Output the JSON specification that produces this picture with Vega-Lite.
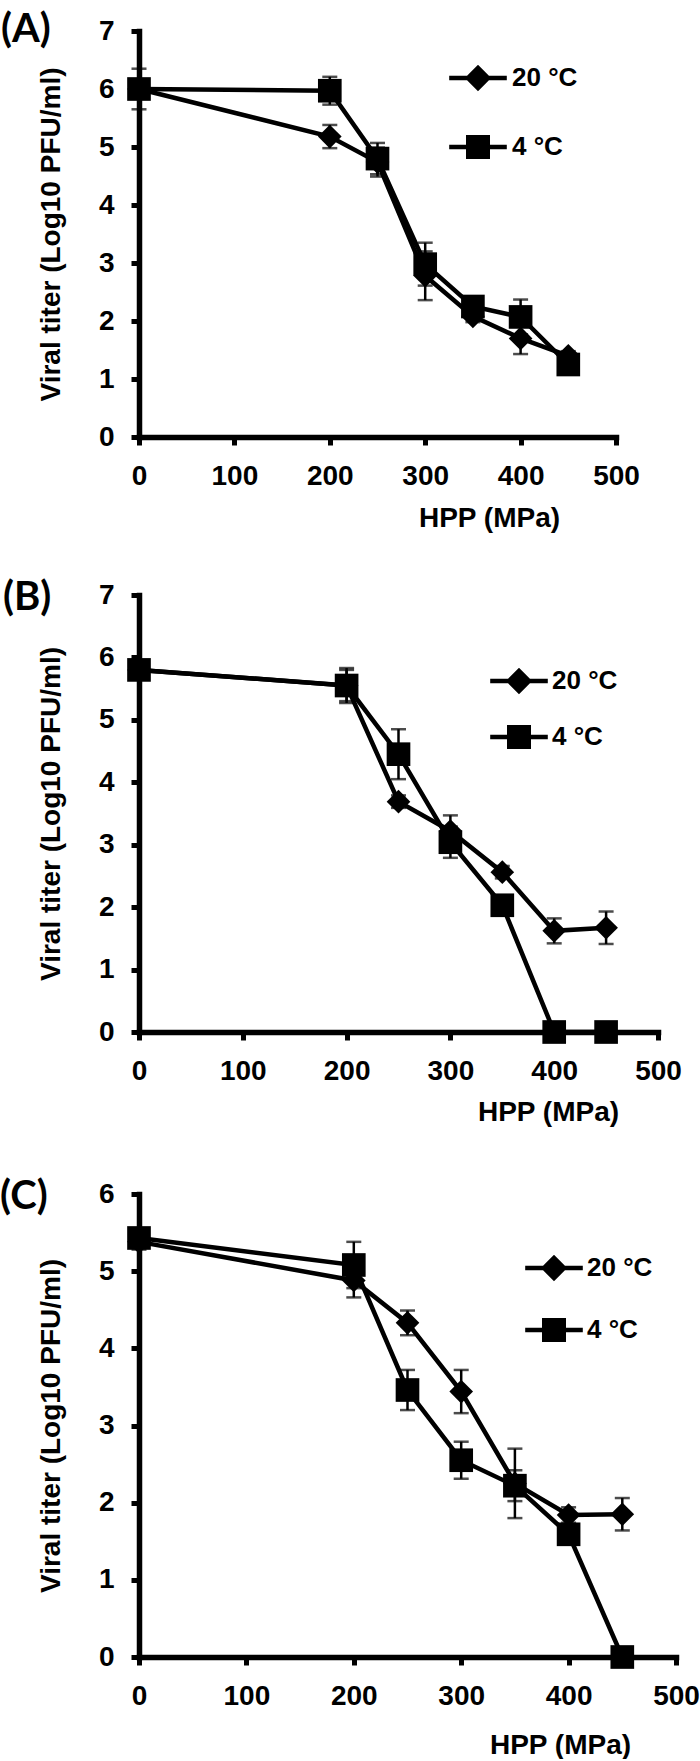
{
  "$schema": "https://vega.github.io/schema/vega-lite/v6.json",
  "background": "white",
  "padding": {"left": 0, "top": 10, "right": 0, "bottom": 0},
  "spacing": 46,
  "datasets": {
    "A": [
      {"p": 0, "series": "20 °C", "v": 6.0, "err": 0.35},
      {"p": 200, "series": "20 °C", "v": 5.18, "err": 0.2},
      {"p": 250, "series": "20 °C", "v": 4.74, "err": 0.25},
      {"p": 300, "series": "20 °C", "v": 2.78, "err": 0.42},
      {"p": 350, "series": "20 °C", "v": 2.08, "err": 0.1},
      {"p": 400, "series": "20 °C", "v": 1.7, "err": 0.27},
      {"p": 450, "series": "20 °C", "v": 1.4, "err": 0.08},
      {"p": 0, "series": "4 °C", "v": 6.0, "err": 0.1},
      {"p": 200, "series": "4 °C", "v": 5.97, "err": 0.24},
      {"p": 250, "series": "4 °C", "v": 4.8, "err": 0.27},
      {"p": 300, "series": "4 °C", "v": 2.98, "err": 0.37},
      {"p": 350, "series": "4 °C", "v": 2.25, "err": 0.1},
      {"p": 400, "series": "4 °C", "v": 2.07, "err": 0.3},
      {"p": 450, "series": "4 °C", "v": 1.25, "err": 0.08}
    ],
    "B": [
      {"p": 0, "series": "20 °C", "v": 5.8, "err": 0.1},
      {"p": 200, "series": "20 °C", "v": 5.55, "err": 0.25},
      {"p": 250, "series": "20 °C", "v": 3.69, "err": 0.1},
      {"p": 300, "series": "20 °C", "v": 3.22, "err": 0.25},
      {"p": 350, "series": "20 °C", "v": 2.56, "err": 0.1},
      {"p": 400, "series": "20 °C", "v": 1.62, "err": 0.2},
      {"p": 450, "series": "20 °C", "v": 1.67, "err": 0.26},
      {"p": 0, "series": "4 °C", "v": 5.8, "err": 0.1},
      {"p": 200, "series": "4 °C", "v": 5.55, "err": 0.28},
      {"p": 250, "series": "4 °C", "v": 4.45, "err": 0.4},
      {"p": 300, "series": "4 °C", "v": 3.04, "err": 0.25},
      {"p": 350, "series": "4 °C", "v": 2.03, "err": 0.1},
      {"p": 400, "series": "4 °C", "v": 0, "err": 0},
      {"p": 450, "series": "4 °C", "v": 0, "err": 0}
    ],
    "C": [
      {"p": 0, "series": "20 °C", "v": 5.38, "err": 0.1},
      {"p": 200, "series": "20 °C", "v": 4.88, "err": 0.22},
      {"p": 250, "series": "20 °C", "v": 4.33, "err": 0.16},
      {"p": 300, "series": "20 °C", "v": 3.44, "err": 0.28},
      {"p": 350, "series": "20 °C", "v": 2.25, "err": 0.45},
      {"p": 400, "series": "20 °C", "v": 1.84, "err": 0.1},
      {"p": 450, "series": "20 °C", "v": 1.85, "err": 0.21},
      {"p": 0, "series": "4 °C", "v": 5.43, "err": 0.1},
      {"p": 200, "series": "4 °C", "v": 5.08, "err": 0.3},
      {"p": 250, "series": "4 °C", "v": 3.46, "err": 0.26},
      {"p": 300, "series": "4 °C", "v": 2.55, "err": 0.24},
      {"p": 350, "series": "4 °C", "v": 2.22, "err": 0.2},
      {"p": 400, "series": "4 °C", "v": 1.59, "err": 0.1},
      {"p": 450, "series": "4 °C", "v": 0, "err": 0}
    ]
  },
  "resolve": {"scale": {"x": "independent", "y": "independent", "shape": "independent"}, "legend": {"shape": "independent"}},
  "vconcat": [
    {
      "title": {"text": "(A)", "anchor": "start", "frame": "group", "dx": -138, "dy": 0, "offset": -53, "baseline": "middle"},
      "width": 477, "height": 406,
      "data": {"name": "A"},
      "resolve": {"scale": {"shape": "independent"}, "legend": {"shape": "independent"}},
      "layer": [
        {"mark": {"type": "line", "color": "black", "strokeWidth": 4.5},
         "encoding": {
           "x": {"field": "p", "type": "quantitative", "title": "HPP (MPa)", "scale": {"domain": [0, 500], "nice": false},
                 "axis": {"values": [0, 100, 200, 300, 400, 500], "format": "d", "titleX": 350, "titleY": 81, "titleAlign": "center", "titleBaseline": "middle"}},
           "y": {"field": "v", "type": "quantitative", "title": "Viral titer (Log10 PFU/ml)", "scale": {"domain": [0, 7], "nice": false},
                 "axis": {"values": [0, 1, 2, 3, 4, 5, 6, 7], "format": "d", "titlePadding": 33}},
           "detail": {"field": "series"}}},
        {"mark": {"type": "errorbar", "color": "black", "thickness": 2.5, "ticks": {"size": 15, "thickness": 2.5, "color": "black"}},
         "encoding": {
           "x": {"field": "p", "type": "quantitative", "title": "HPP (MPa)"},
           "y": {"field": "v", "type": "quantitative", "title": "Viral titer (Log10 PFU/ml)"},
           "yError": {"field": "err"},
           "detail": {"field": "series"}}},
        {"mark": {"type": "point", "filled": true, "opacity": 1, "color": "black", "size": 560},
         "encoding": {
           "x": {"field": "p", "type": "quantitative", "title": "HPP (MPa)"},
           "y": {"field": "v", "type": "quantitative", "title": "Viral titer (Log10 PFU/ml)"},
           "shape": {"field": "series", "type": "nominal", "scale": {"domain": ["20 °C", "4 °C"], "range": ["diamond", "square"]}, "legend": null}}},
        {"transform": [{"filter": "datum.p < 0"}],
         "mark": {"type": "point", "filled": true, "opacity": 1, "color": "black", "size": 576},
         "encoding": {
           "x": {"field": "p", "type": "quantitative", "title": "HPP (MPa)"},
           "y": {"field": "v", "type": "quantitative", "title": "Viral titer (Log10 PFU/ml)"},
           "shape": {"field": "series", "type": "nominal", "scale": {"domain": ["20 °C", "4 °C"], "range": ["M-2.4,-0.19L2.4,-0.19L2.4,0.19L-2.4,0.19Z M0,-1.1L1.1,0L0,1.1L-1.1,0Z", "M-2.4,-0.19L2.4,-0.19L2.4,0.19L-2.4,0.19Z M-1,-1L1,-1L1,1L-1,1Z"]},
             "legend": {"orient": "none", "legendX": 326, "legendY": 34, "title": null, "labelOffset": 21, "rowPadding": 42, "symbolSize": 576}}}}
      ]
    },
    {
      "spacing": 51,
      "resolve": {"scale": {"x": "independent", "y": "independent", "shape": "independent"}, "legend": {"shape": "independent"}},
      "vconcat": [
        {
          "title": {"text": "(B)", "anchor": "start", "frame": "group", "dx": -136, "dy": 0, "offset": -57, "baseline": "middle"},
          "width": 519, "height": 437,
          "data": {"name": "B"},
          "resolve": {"scale": {"shape": "independent"}, "legend": {"shape": "independent"}},
          "layer": [
            {"mark": {"type": "line", "color": "black", "strokeWidth": 4.5},
             "encoding": {
               "x": {"field": "p", "type": "quantitative", "title": "HPP (MPa)", "scale": {"domain": [0, 500], "nice": false},
                     "axis": {"values": [0, 100, 200, 300, 400, 500], "format": "d", "titleX": 409, "titleY": 80, "titleAlign": "center", "titleBaseline": "middle"}},
               "y": {"field": "v", "type": "quantitative", "title": "Viral titer (Log10 PFU/ml)", "scale": {"domain": [0, 7], "nice": false},
                     "axis": {"values": [0, 1, 2, 3, 4, 5, 6, 7], "format": "d", "titlePadding": 33}},
               "detail": {"field": "series"}}},
            {"mark": {"type": "errorbar", "color": "black", "thickness": 2.5, "ticks": {"size": 15, "thickness": 2.5, "color": "black"}},
             "encoding": {
               "x": {"field": "p", "type": "quantitative", "title": "HPP (MPa)"},
               "y": {"field": "v", "type": "quantitative", "title": "Viral titer (Log10 PFU/ml)"},
               "yError": {"field": "err"},
               "detail": {"field": "series"}}},
            {"mark": {"type": "point", "filled": true, "opacity": 1, "color": "black", "size": 560},
             "encoding": {
               "x": {"field": "p", "type": "quantitative", "title": "HPP (MPa)"},
               "y": {"field": "v", "type": "quantitative", "title": "Viral titer (Log10 PFU/ml)"},
               "shape": {"field": "series", "type": "nominal", "scale": {"domain": ["20 °C", "4 °C"], "range": ["diamond", "square"]}, "legend": null}}},
            {"transform": [{"filter": "datum.p < 0"}],
             "mark": {"type": "point", "filled": true, "opacity": 1, "color": "black", "size": 576},
             "encoding": {
               "x": {"field": "p", "type": "quantitative", "title": "HPP (MPa)"},
               "y": {"field": "v", "type": "quantitative", "title": "Viral titer (Log10 PFU/ml)"},
               "shape": {"field": "series", "type": "nominal", "scale": {"domain": ["20 °C", "4 °C"], "range": ["M-2.4,-0.19L2.4,-0.19L2.4,0.19L-2.4,0.19Z M0,-1.1L1.1,0L0,1.1L-1.1,0Z", "M-2.4,-0.19L2.4,-0.19L2.4,0.19L-2.4,0.19Z M-1,-1L1,-1L1,1L-1,1Z"]},
                 "legend": {"orient": "none", "legendX": 367, "legendY": 73, "title": null, "labelOffset": 20, "rowPadding": 29, "symbolSize": 576}}}}
          ]
        },
        {
          "title": {"text": "(C)", "anchor": "start", "frame": "group", "dx": -139, "dy": 0, "offset": -57, "baseline": "middle"},
          "width": 537, "height": 463,
          "data": {"name": "C"},
          "resolve": {"scale": {"shape": "independent"}, "legend": {"shape": "independent"}},
          "layer": [
            {"mark": {"type": "line", "color": "black", "strokeWidth": 4.5},
             "encoding": {
               "x": {"field": "p", "type": "quantitative", "title": "HPP (MPa)", "scale": {"domain": [0, 500], "nice": false},
                     "axis": {"values": [0, 100, 200, 300, 400, 500], "format": "d", "titleX": 421, "titleY": 88, "titleAlign": "center", "titleBaseline": "middle"}},
               "y": {"field": "v", "type": "quantitative", "title": "Viral titer (Log10 PFU/ml)", "scale": {"domain": [0, 6], "nice": false},
                     "axis": {"values": [0, 1, 2, 3, 4, 5, 6], "format": "d", "titlePadding": 33}},
               "detail": {"field": "series"}}},
            {"mark": {"type": "errorbar", "color": "black", "thickness": 2.5, "ticks": {"size": 15, "thickness": 2.5, "color": "black"}},
             "encoding": {
               "x": {"field": "p", "type": "quantitative", "title": "HPP (MPa)"},
               "y": {"field": "v", "type": "quantitative", "title": "Viral titer (Log10 PFU/ml)"},
               "yError": {"field": "err"},
               "detail": {"field": "series"}}},
            {"mark": {"type": "point", "filled": true, "opacity": 1, "color": "black", "size": 560},
             "encoding": {
               "x": {"field": "p", "type": "quantitative", "title": "HPP (MPa)"},
               "y": {"field": "v", "type": "quantitative", "title": "Viral titer (Log10 PFU/ml)"},
               "shape": {"field": "series", "type": "nominal", "scale": {"domain": ["20 °C", "4 °C"], "range": ["diamond", "square"]}, "legend": null}}},
            {"transform": [{"filter": "datum.p < 0"}],
             "mark": {"type": "point", "filled": true, "opacity": 1, "color": "black", "size": 576},
             "encoding": {
               "x": {"field": "p", "type": "quantitative", "title": "HPP (MPa)"},
               "y": {"field": "v", "type": "quantitative", "title": "Viral titer (Log10 PFU/ml)"},
               "shape": {"field": "series", "type": "nominal", "scale": {"domain": ["20 °C", "4 °C"], "range": ["M-2.4,-0.19L2.4,-0.19L2.4,0.19L-2.4,0.19Z M0,-1.1L1.1,0L0,1.1L-1.1,0Z", "M-2.4,-0.19L2.4,-0.19L2.4,0.19L-2.4,0.19Z M-1,-1L1,-1L1,1L-1,1Z"]},
                 "legend": {"orient": "none", "legendX": 402, "legendY": 61, "title": null, "labelOffset": 20, "rowPadding": 35, "symbolSize": 576}}}}
          ]
        }
      ]
    }
  ],
  "config": {
    "font": "Liberation Sans",
    "view": {"stroke": null},
    "title": {"font": "Lato", "fontSize": 40, "fontWeight": "bold", "color": "black"},
    "axis": {
      "grid": false,
      "domainColor": "black", "domainWidth": 5.5, "domainCap": "square",
      "tickColor": "black", "tickWidth": 5, "tickSize": 8,
      "labelFont": "Liberation Sans", "labelFontSize": 28, "labelFontWeight": "bold", "labelColor": "black",
      "labelPadding": 17, "labelFlush": false, "labelOverlap": false, "labelBound": false,
      "titleFont": "Liberation Sans", "titleFontSize": 28, "titleFontWeight": "bold", "titleColor": "black"
    },
    "legend": {
      "symbolSize": 576, "symbolFillColor": "black", "symbolStrokeWidth": 0,
      "labelFont": "Liberation Sans", "labelFontSize": 26, "labelFontWeight": "bold", "labelColor": "black",
      "padding": 0, "symbolOpacity": 1
    }
  }
}
